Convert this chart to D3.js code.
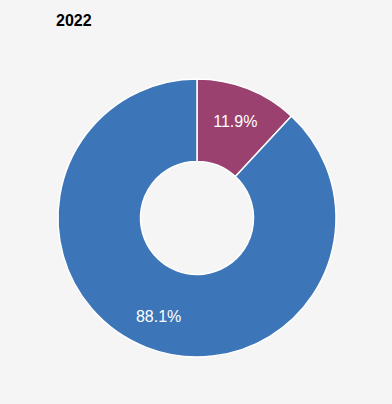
<!DOCTYPE html>
<html><head><meta charset="utf-8">
<script src="https://cdn.jsdelivr.net/npm/d3@7"></script>
<style>html,body{margin:0;padding:0;background:#f5f5f5;}svg{display:block;}</style>
</head><body>
<svg id="c" width="392" height="404"></svg>
<script>
const title = "2022";
const categories = ["A", "B"];
const values = [11.9, 88.1];
const labels = ["11.9%", "88.1%"];
const colors = ["#9b416f", "#3d76b8"];

const W = 392, H = 404;
const cx = 197, cy = 218, outerR = 139, innerR = 56.5, labelR = 105;
const svg = d3.select("#c");
svg.append("rect").attr("width", W).attr("height", H).attr("fill", "#f5f5f5");
svg.append("text").attr("x", 56).attr("y", 26).text(title)
  .attr("font-family", "Liberation Sans, Arial, sans-serif").attr("font-size", 16)
  .attr("font-weight", "bold").attr("fill", "#000");

const data = categories.map((c, i) => ({c, v: values[i], label: labels[i], color: colors[i]}));
const pie = d3.pie().value(d => d.v).sort(null);
const arc = d3.arc().innerRadius(innerR).outerRadius(outerR);
const labelArc = d3.arc().innerRadius(labelR).outerRadius(labelR);
const g = svg.append("g").attr("transform", `translate(${cx},${cy})`);
const arcs = pie(data);
g.selectAll("path").data(arcs).join("path")
  .attr("d", arc).attr("fill", d => d.data.color)
  .attr("stroke", "#ffffff").attr("stroke-width", 1.5);
g.selectAll("text").data(arcs).join("text")
  .attr("transform", d => { const [x, y] = labelArc.centroid(d); return `translate(${x},${y + 1})`; })
  .attr("text-anchor", "middle").attr("dy", "0.35em")
  .attr("font-family", "Liberation Sans, Arial, sans-serif").attr("font-size", 16)
  .attr("fill", "#ffffff").text(d => d.data.label);
</script>
</body></html>
